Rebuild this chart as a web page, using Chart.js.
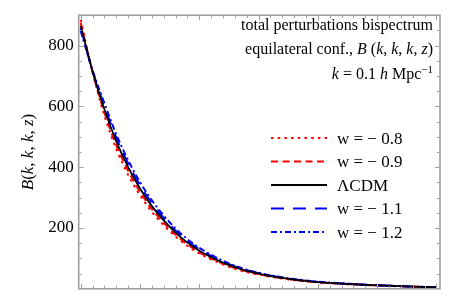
<!DOCTYPE html>
<html>
<head>
<meta charset="utf-8">
<script src="https://cdn.jsdelivr.net/npm/chart.js@4"></script>
<style>
  html, body { margin: 0; padding: 0; background: #fff; }
  canvas { display: block; }
</style>
</head>
<body>
<canvas id="grafico" width="454" height="304"></canvas>
<script>
// redshift z (eixo x, sem rótulos)
const zValores = [0, 0.1, 0.2, 0.3, 0.4, 0.5, 0.6, 0.7, 0.8, 0.9, 1.0, 1.1, 1.2, 1.3, 1.4, 1.5,
  1.6, 1.7, 1.8, 1.9, 2.0, 2.1, 2.2, 2.3, 2.4, 2.5, 2.6, 2.7, 2.8, 2.9, 3.0];

const bW08 = [885, 712, 570, 460, 375, 308, 253, 209, 172, 141, 116, 97, 80, 66, 55, 47,
  39.5, 34, 28.5, 24.5, 21, 18.5, 16, 14.3, 12.4, 11, 9.6, 8.2, 6.8, 5.8, 4.8];
const bW09 = [875, 713, 580, 472, 388, 319, 262, 217, 178, 146, 120, 100, 83, 68.5, 57, 48.5,
  41, 35, 29.3, 25.3, 21.5, 19, 16.5, 14.6, 12.7, 11.2, 9.8, 8.3, 6.9, 5.9, 4.9];
const bLCDM = [865, 715, 590, 485, 400, 330, 272, 225, 185, 152, 125, 104, 86, 71, 59, 50,
  42, 36, 30, 26, 22, 19.5, 17, 15, 13, 11.5, 10, 8.5, 7, 6, 5];
const bW11 = [857, 717, 600, 497, 412, 341, 282, 233, 192, 158, 130, 108, 89, 73.5, 61, 51.5,
  43.3, 37, 31, 26.8, 22.7, 20, 17.5, 15.4, 13.3, 11.8, 10.2, 8.7, 7.2, 6.1, 5.1];
const bW12 = [848, 718, 610, 508, 423, 351, 291, 241, 198, 163, 135, 112, 92, 76, 63, 53,
  44.6, 38, 32, 27.5, 23.4, 20.5, 18, 15.8, 13.6, 12, 10.4, 8.9, 7.4, 6.3, 5.2];

const rotulosY = [200, 400, 600, 800];

const SERIF = '"Liberation Serif", "DejaVu Serif", serif';

function pontos(valores) {
  return zValores.map((z, i) => ({ x: z, y: valores[i] }));
}

const series = [
  { nome: [['w = − 0.8', 'n']], dados: bW08, cor: '#ff0000', dash: [2.5, 4.2], larg: 2, ordem: 4 },
  { nome: [['w = − 0.9', 'n']], dados: bW09, cor: '#ff0000', dash: [7, 4.5], larg: 2, ordem: 3 },
  { nome: [['ΛCDM', 'n']], dados: bLCDM, cor: '#000000', dash: [], larg: 1.8, ordem: 0 },
  { nome: [['w = − 1.1', 'n']], dados: bW11, cor: '#0000ff', dash: [13, 9], larg: 2, ordem: 2 },
  { nome: [['w = − 1.2', 'n']], dados: bW12, cor: '#0000ff', dash: [6, 3, 2, 3], larg: 2, ordem: 1 }
];

// texto com partes em itálico / sobrescrito
function fonte(estilo, tam) {
  if (estilo === 'i') return `italic ${tam}px ${SERIF}`;
  if (estilo === 'sup') return `${Math.round(tam * 0.7)}px ${SERIF}`;
  return `${tam}px ${SERIF}`;
}

function larguraRica(ctx, partes, tam) {
  let w = 0;
  partes.forEach(([t, e]) => { ctx.font = fonte(e, tam); w += ctx.measureText(t).width; });
  return w;
}

function desenharRico(ctx, partes, x, y, alinhar, tam) {
  const w = larguraRica(ctx, partes, tam);
  let cx = alinhar === 'right' ? x - w : alinhar === 'center' ? x - w / 2 : x;
  ctx.textAlign = 'left';
  partes.forEach(([t, e]) => {
    ctx.font = fonte(e, tam);
    const dy = e === 'sup' ? -tam * 0.4 : 0;
    ctx.fillText(t, cx, y + dy);
    cx += ctx.measureText(t).width;
  });
}

const titulo = [
  [['total perturbations bispectrum', 'n']],
  [['equilateral conf., ', 'n'], ['B', 'i'], [' (', 'n'], ['k', 'i'], [', ', 'n'], ['k', 'i'],
   [', ', 'n'], ['k', 'i'], [', ', 'n'], ['z', 'i'], [')', 'n']],
  [['k', 'i'], [' = 0.1 ', 'n'], ['h', 'i'], [' Mpc', 'n'], ['−1', 'sup']]
];

const rotuloEixoY = [['B', 'i'], ['(', 'n'], ['k', 'i'], [', ', 'n'], ['k', 'i'], [', ', 'n'],
  ['k', 'i'], [', ', 'n'], ['z', 'i'], [')', 'n']];

const molduraPlugin = {
  id: 'moldura',
  afterDraw(chart) {
    const ctx = chart.ctx;
    const a = chart.chartArea;
    const sx = chart.scales.x;
    const sy = chart.scales.y;
    ctx.save();

    // moldura
    ctx.strokeStyle = '#a0a0a0';
    ctx.lineWidth = 1.6;
    ctx.setLineDash([]);
    ctx.strokeRect(a.left, a.top, a.right - a.left, a.bottom - a.top);

    // ticks para dentro
    ctx.lineWidth = 1;
    ctx.beginPath();
    for (let i = 0; i <= 30; i++) {
      const px = Math.round(sx.getPixelForValue(i / 10)) + 0.5;
      const len = i % 5 === 0 ? 5 : 3;
      ctx.moveTo(px, a.bottom); ctx.lineTo(px, a.bottom - len);
      ctx.moveTo(px, a.top); ctx.lineTo(px, a.top + len);
    }
    for (let v = 50; v < 900; v += 50) {
      const py = Math.round(sy.getPixelForValue(v)) + 0.5;
      const len = v % 200 === 0 ? 5 : 3;
      ctx.moveTo(a.left, py); ctx.lineTo(a.left + len, py);
      ctx.moveTo(a.right, py); ctx.lineTo(a.right - len, py);
    }
    ctx.stroke();

    // título no canto
    ctx.fillStyle = '#000';
    ctx.textBaseline = 'alphabetic';
    desenharRico(ctx, titulo[0], 433, 30, 'right', 16);
    desenharRico(ctx, titulo[1], 433, 54, 'right', 16);
    desenharRico(ctx, titulo[2], 433, 79, 'right', 16);

    // legenda
    series.forEach((s, i) => {
      const y = 138 + i * 23.5;
      ctx.strokeStyle = s.cor;
      ctx.lineWidth = s.larg;
      ctx.setLineDash(s.dash);
      ctx.beginPath();
      ctx.moveTo(271, y); ctx.lineTo(327, y);
      ctx.stroke();
      ctx.setLineDash([]);
      desenharRico(ctx, s.nome, 337, y + 5.5, 'left', 17);
    });

    // rótulo do eixo y
    ctx.translate(29, (a.top + a.bottom) / 2);
    ctx.rotate(-Math.PI / 2);
    ctx.textBaseline = 'middle';
    desenharRico(ctx, rotuloEixoY, 0, 0, 'center', 17);
    ctx.restore();
  }
};

new Chart(document.getElementById('grafico'), {
  type: 'line',
  data: {
    datasets: series.map(s => ({
      label: s.nome.map(p => p[0]).join(''),
      data: pontos(s.dados),
      borderColor: s.cor,
      borderWidth: s.larg,
      borderDash: s.dash,
      pointRadius: 0,
      fill: false,
      cubicInterpolationMode: 'monotone',
      order: s.ordem
    }))
  },
  options: {
    responsive: false,
    devicePixelRatio: 1,
    animation: false,
    layout: { padding: { left: 18.7, right: 14, top: 14, bottom: 2 } },
    plugins: { legend: { display: false }, tooltip: { enabled: false } },
    scales: {
      x: {
        type: 'linear',
        min: -0.017,
        max: 3.03,
        grid: { display: false },
        border: { display: false },
        ticks: { display: false },
        afterFit: s => { s.height = 0; }
      },
      y: {
        min: 0,
        max: 900,
        grid: { display: false, drawTicks: false },
        border: { display: false },
        ticks: {
          stepSize: 50,
          autoSkip: false,
          padding: 5,
          color: '#000',
          font: { family: SERIF, size: 17 },
          callback: v => rotulosY.includes(v) ? String(v) : ''
        },
        afterFit: s => { s.width = 60; }
      }
    }
  },
  plugins: [molduraPlugin]
});
</script>
</body>
</html>
